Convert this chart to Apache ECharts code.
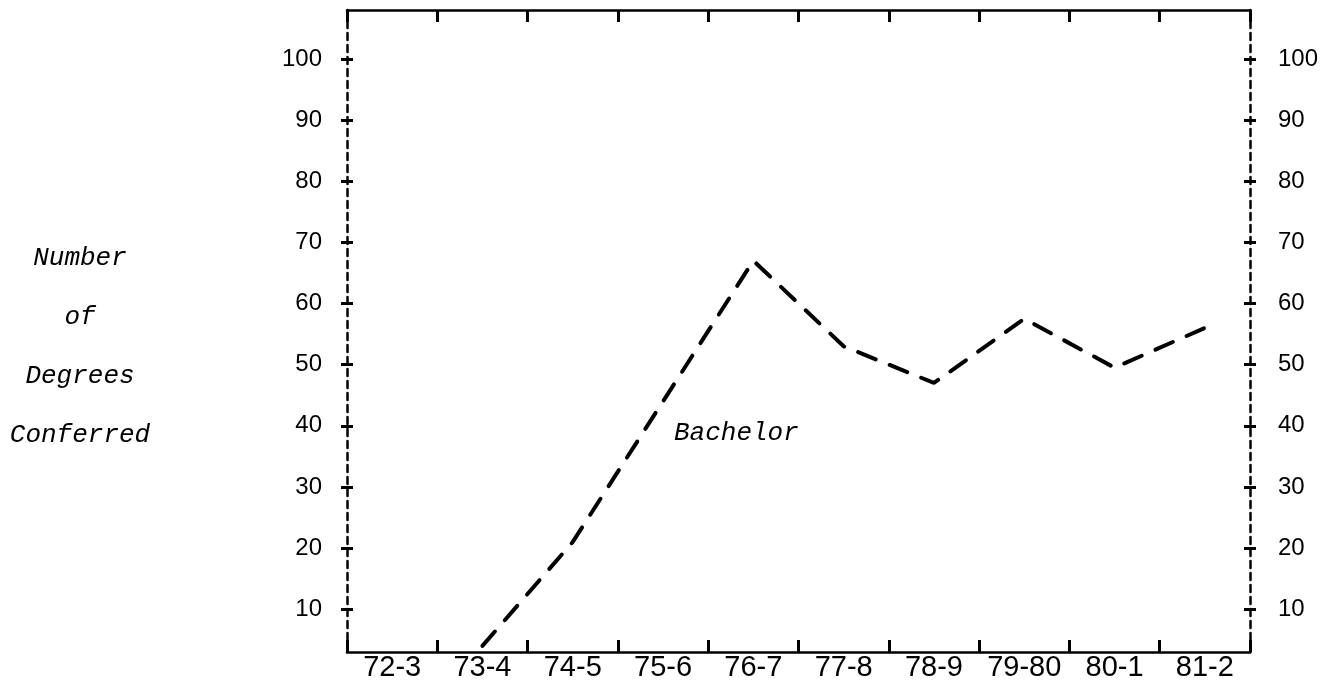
<!DOCTYPE html>
<html>
<head>
<meta charset="utf-8">
<script src="https://cdn.jsdelivr.net/npm/echarts@6/dist/echarts.min.js"></script>
<style>
  html, body { margin: 0; padding: 0; background: #fff; }
  #chart { width: 1342px; height: 684px; }
</style>
</head>
<body>
<div id="chart"></div>
<script>
const categories = ['72-3', '73-4', '74-5', '75-6', '76-7', '77-8', '78-9', '79-80', '80-1', '81-2'];
const bachelor = [null, 4, 21, 44, 67, 53, 47, 57.5, 49.5, 56];
const yTicks = [10, 20, 30, 40, 50, 60, 70, 80, 90, 100];
const yTitleLines = ['Number', 'of', 'Degrees', 'Conferred'];
const seriesLabel = 'Bachelor';

const chart = echarts.init(document.getElementById('chart'), null, { renderer: 'canvas' });

const monoItalic = { fontFamily: '"Liberation Mono", "Courier New", monospace', fontStyle: 'italic', fontSize: 26, fill: '#000' };

function yAxisDef(position, showLabel, showLine, inside) {
  return {
    type: 'value', position: position, min: 3, max: 108,
    splitLine: { show: false },
    axisLine: { show: showLine, lineStyle: { color: '#000', width: 2.5, type: [7, 5] } },
    axisTick: { show: true, inside: inside, length: 6, customValues: yTicks, lineStyle: { color: '#000', width: 3 } },
    axisLabel: {
      show: showLabel, customValues: yTicks, margin: position === 'left' ? 25 : 28,
      color: '#000', fontSize: 24, fontFamily: '"Liberation Sans", Arial, sans-serif'
    }
  };
}

const option = {
  backgroundColor: '#fff',
  animation: false,
  grid: { left: 347, right: 92, top: 10, bottom: 32, containLabel: false },
  xAxis: [
    {
      type: 'category', data: categories, position: 'bottom', boundaryGap: true,
      axisLine: { show: true, lineStyle: { color: '#000', width: 2.5 } },
      axisTick: { show: true, inside: true, length: 12, lineStyle: { color: '#000', width: 3 } },
      axisLabel: { color: '#000', fontSize: 29, margin: 1, fontFamily: '"Liberation Sans", Arial, sans-serif', interval: 0 },
      splitLine: { show: false }
    },
    {
      type: 'category', data: categories, position: 'top', boundaryGap: true,
      axisLine: { show: true, lineStyle: { color: '#000', width: 2.5 } },
      axisTick: { show: true, inside: true, length: 12, lineStyle: { color: '#000', width: 3 } },
      axisLabel: { show: false },
      splitLine: { show: false }
    }
  ],
  yAxis: [
    yAxisDef('left', true, true, false),
    yAxisDef('left', false, false, true),
    yAxisDef('right', true, true, false),
    yAxisDef('right', false, false, true)
  ],
  series: [
    {
      name: seriesLabel, type: 'line', data: bachelor, xAxisIndex: 0, yAxisIndex: 0,
      symbol: 'none', connectNulls: false,
      lineStyle: { color: '#000', width: 4, type: [19, 15], cap: 'round' }
    }
  ],
  graphic: [
    ...yTitleLines.map((t, i) => ({
      type: 'text', x: 80, y: 259 + i * 59 - 14,
      style: Object.assign({ text: t, textAlign: 'center' }, monoItalic)
    })),
    {
      type: 'text', x: 674, y: 420,
      style: Object.assign({ text: seriesLabel }, monoItalic)
    }
  ]
};

chart.setOption(option);
</script>
</body>
</html>
